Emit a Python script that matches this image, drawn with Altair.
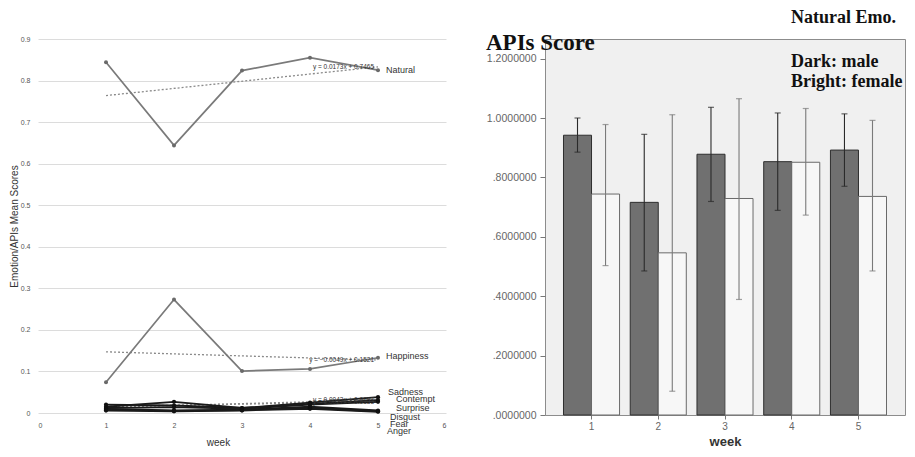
import altair as alt
import pandas as pd

# ---------------- data: left chart (weekly mean scores) ----------------
weeks = [1, 2, 3, 4, 5]
series_names = ["Natural", "Happiness", "Sadness", "Contempt", "Surprise", "Disgust", "Fear", "Anger"]
natural = [0.844, 0.644, 0.824, 0.855, 0.825]
happiness = [0.074, 0.273, 0.101, 0.106, 0.133]
sadness = [0.020, 0.018, 0.012, 0.025, 0.038]
contempt = [0.015, 0.027, 0.012, 0.022, 0.031]
surprise = [0.012, 0.014, 0.010, 0.020, 0.027]
disgust = [0.010, 0.006, 0.008, 0.015, 0.006]
fear = [0.008, 0.005, 0.007, 0.012, 0.004]
anger = [0.006, 0.004, 0.006, 0.010, 0.003]
series_values = [natural, happiness, sadness, contempt, surprise, disgust, fear, anger]
trend_series = ["Natural", "Happiness", "Sadness", "Contempt"]
left_y_ticks = [0, 0.1, 0.2, 0.3, 0.4, 0.5, 0.6, 0.7, 0.8, 0.9]
left_x_ticks = [0, 1, 2, 3, 4, 5, 6]

# ---------------- data: right chart (APIs score, Natural Emo.) ----------------
week_labels = ["1", "2", "3", "4", "5"]
sexes = ["male", "female"]
male_mean = [0.942, 0.716, 0.878, 0.853, 0.892]
male_lo = [0.885, 0.485, 0.719, 0.689, 0.770]
male_hi = [1.000, 0.945, 1.036, 1.017, 1.014]
female_mean = [0.744, 0.546, 0.729, 0.851, 0.736]
female_lo = [0.503, 0.080, 0.389, 0.673, 0.485]
female_hi = [0.978, 1.011, 1.065, 1.032, 0.992]
right_y_ticks = [0, 0.2, 0.4, 0.6, 0.8, 1.0, 1.2]

# ---------------- tables ----------------
rows = []
for name, vals in zip(series_names, series_values):
    for w, v in zip(weeks, vals):
        rows.append({"series": name, "week": w, "value": v})
df = pd.DataFrame(rows)

rrows = []
for i, wk in enumerate(week_labels):
    rrows.append({"week": wk, "sex": "male", "mean": male_mean[i], "lo": male_lo[i], "hi": male_hi[i]})
    rrows.append({"week": wk, "sex": "female", "mean": female_mean[i], "lo": female_lo[i], "hi": female_hi[i]})
rdf = pd.DataFrame(rrows)

FONT = "Liberation Sans"
SERIF = "Liberation Serif"

# ---------------- left chart ----------------
LW, LH = 408, 374
xL = alt.X("week:Q", scale=alt.Scale(domain=[0, 6], nice=False),
           axis=alt.Axis(values=left_x_ticks, format="d", grid=False, domain=False, ticks=False,
                         labelFontSize=7, labelColor="#555", labelFont=FONT, labelPadding=8,
                         title="week", titleFont=FONT, titleFontSize=10, titleFontWeight="normal",
                         titleColor="#333", titlePadding=9, titleX=180))
yL = alt.Y("value:Q", scale=alt.Scale(domain=[0, 0.9], nice=False),
           axis=alt.Axis(values=left_y_ticks, grid=True, gridColor="#dcdcdc", gridWidth=1,
                         domain=False, ticks=False, labelFontSize=7, labelColor="#555", labelFont=FONT,
                         labelPadding=8,
                         labelExpr="datum.value == 0 ? '0' : format(datum.value, '.1f')",
                         title="Emotion/APIs Mean Scores", titleFont=FONT, titleFontSize=10,
                         titleFontWeight="normal", titleColor="#333", titlePadding=1))

base = alt.Chart(df)
big = base.transform_filter(alt.FieldOneOfPredicate(field="series", oneOf=["Natural", "Happiness"]))
small = base.transform_filter(alt.FieldOneOfPredicate(field="series", oneOf=series_names[2:]))

trend = base.transform_filter(
    alt.FieldOneOfPredicate(field="series", oneOf=trend_series)
).transform_regression("week", "value", groupby=["series"], extent=[1, 5]).mark_line(
    strokeDash=[2, 2], color="#8a8a8a", strokeWidth=1.3
).encode(x=xL, y=yL, detail="series:N")

big_lines = big.mark_line(color="#7a7a7a", strokeWidth=1.7).encode(x=xL, y=yL, detail="series:N")
big_pts = big.mark_circle(color="#6a6a6a", size=16, opacity=1).encode(x=xL, y=yL)
small_lines = small.mark_line(color="#1a1a1a", strokeWidth=1.8).encode(x=xL, y=yL, detail="series:N")
small_pts = small.mark_circle(color="#111", size=18, opacity=1).encode(x=xL, y=yL)

eq = base.transform_filter(
    alt.FieldOneOfPredicate(field="series", oneOf=trend_series)
).transform_regression("week", "value", groupby=["series"], params=True).transform_calculate(
    eq="'y = ' + format(datum.coef[1], '.4f') + 'x + ' + format(datum.coef[0], '.4f')",
    yend="datum.coef[0] + 5 * datum.coef[1]",
    wk="5",
).mark_text(align="right", baseline="middle", dx=-4, fontSize=6.5, font=FONT, color="#333").encode(
    x=alt.X("wk:Q", scale=alt.Scale(domain=[0, 6], nice=False)),
    y=alt.Y("yend:Q", scale=alt.Scale(domain=[0, 0.9], nice=False)),
    text="eq:N",
)

label_layers = []
label_offsets = {"Natural": (8, 0), "Happiness": (8, -2), "Sadness": (10, -5), "Contempt": (18, -1),
                 "Surprise": (18, 6), "Disgust": (12, 6), "Fear": (12, 13), "Anger": (9, 19)}
for name in series_names:
    dx, dy = label_offsets[name]
    label_layers.append(
        base.transform_filter((alt.datum.series == name) & (alt.datum.week == 5)).mark_text(
            align="left", baseline="middle", dx=dx, dy=dy, fontSize=9, font=FONT, color="#333"
        ).encode(x=xL, y=yL, text="series:N")
    )

left = alt.layer(trend, big_lines, big_pts, small_lines, small_pts, eq, *label_layers).properties(
    width=LW, height=LH, view=alt.ViewBackground(stroke="transparent")
)

# ---------------- right chart ----------------
RW, RH = 360, 376
xR = alt.X("week:N", sort=week_labels,
           scale=alt.Scale(paddingInner=0.16, paddingOuter=0.277),
           axis=alt.Axis(labelAngle=0, labelFontSize=10, labelColor="#666", labelFont=FONT,
                         tickSize=4, tickColor="#777", domain=False, labelPadding=2,
                         title="week", titleFont=FONT, titleFontSize=13, titleFontWeight="bold",
                         titleColor="#333", titlePadding=4))
xoff = alt.XOffset("sex:N", sort=sexes, scale=alt.Scale(domain=sexes, paddingInner=0, paddingOuter=0))
yscaleR = alt.Scale(domain=[0, 1.266], nice=False)
yR = alt.Y("mean:Q", scale=yscaleR,
           axis=alt.Axis(values=right_y_ticks, grid=False, domain=False, tickSize=5, tickColor="#777",
                         labelFontSize=10.5, labelColor="#666", labelFont=FONT, labelPadding=4,
                         labelExpr="datum.value >= 1 ? format(datum.value, '.7f') : substring(format(datum.value, '.7f'), 1)",
                         title=None))

rbase = alt.Chart(rdf)
bars = rbase.mark_bar(strokeWidth=1).encode(
    x=xR, xOffset=xoff, y=yR,
    fill=alt.Fill("sex:N", scale=alt.Scale(domain=sexes, range=["#707070", "#f7f7f7"]), legend=None),
    stroke=alt.Stroke("sex:N", scale=alt.Scale(domain=sexes, range=["#2e2e2e", "#6a6a6a"]), legend=None),
)
err_color = alt.Color("sex:N", scale=alt.Scale(domain=sexes, range=["#2a2a2a", "#7a7a7a"]), legend=None)
err = rbase.mark_rule(strokeWidth=1.1).encode(
    x=xR, xOffset=xoff, y=alt.Y("lo:Q", scale=yscaleR), y2="hi:Q", color=err_color,
)
cap_hi = rbase.mark_tick(thickness=1.2, size=6).encode(
    x=xR, xOffset=xoff, y=alt.Y("hi:Q", scale=yscaleR), color=err_color,
)
cap_lo = rbase.mark_tick(thickness=1.2, size=6).encode(
    x=xR, xOffset=xoff, y=alt.Y("lo:Q", scale=yscaleR), color=err_color,
)

notes = pd.DataFrame({"t": ["APIs Score", "Natural Emo.", "Dark: male", "Bright: female"]})
note_layers = []
note_style = {"APIs Score": (-59, 11, 23), "Natural Emo.": (246, -16, 18),
              "Dark: male": (246, 28, 18), "Bright: female": (246, 48, 18)}
for t, (nx, ny, fs) in note_style.items():
    note_layers.append(
        alt.Chart(notes).transform_filter(alt.datum.t == t).mark_text(
            align="left", baseline="alphabetic", font=SERIF, fontWeight="bold", fontSize=fs, color="#111"
        ).encode(x=alt.value(nx), y=alt.value(ny), text="t:N")
    )

right = alt.layer(bars, err, cap_hi, cap_lo, *note_layers).properties(
    width=RW, height=RH, view=alt.ViewBackground(fill="#f0f0f0", stroke="#8c8c8c", strokeWidth=1)
)

chart = alt.hconcat(left, right, spacing=99, bounds="flush").properties(
    padding={"left": 0, "top": 0, "right": 0, "bottom": 0},
    background="white",
)

chart.save("out.html", embed_options={"renderer": "svg", "actions": False})
